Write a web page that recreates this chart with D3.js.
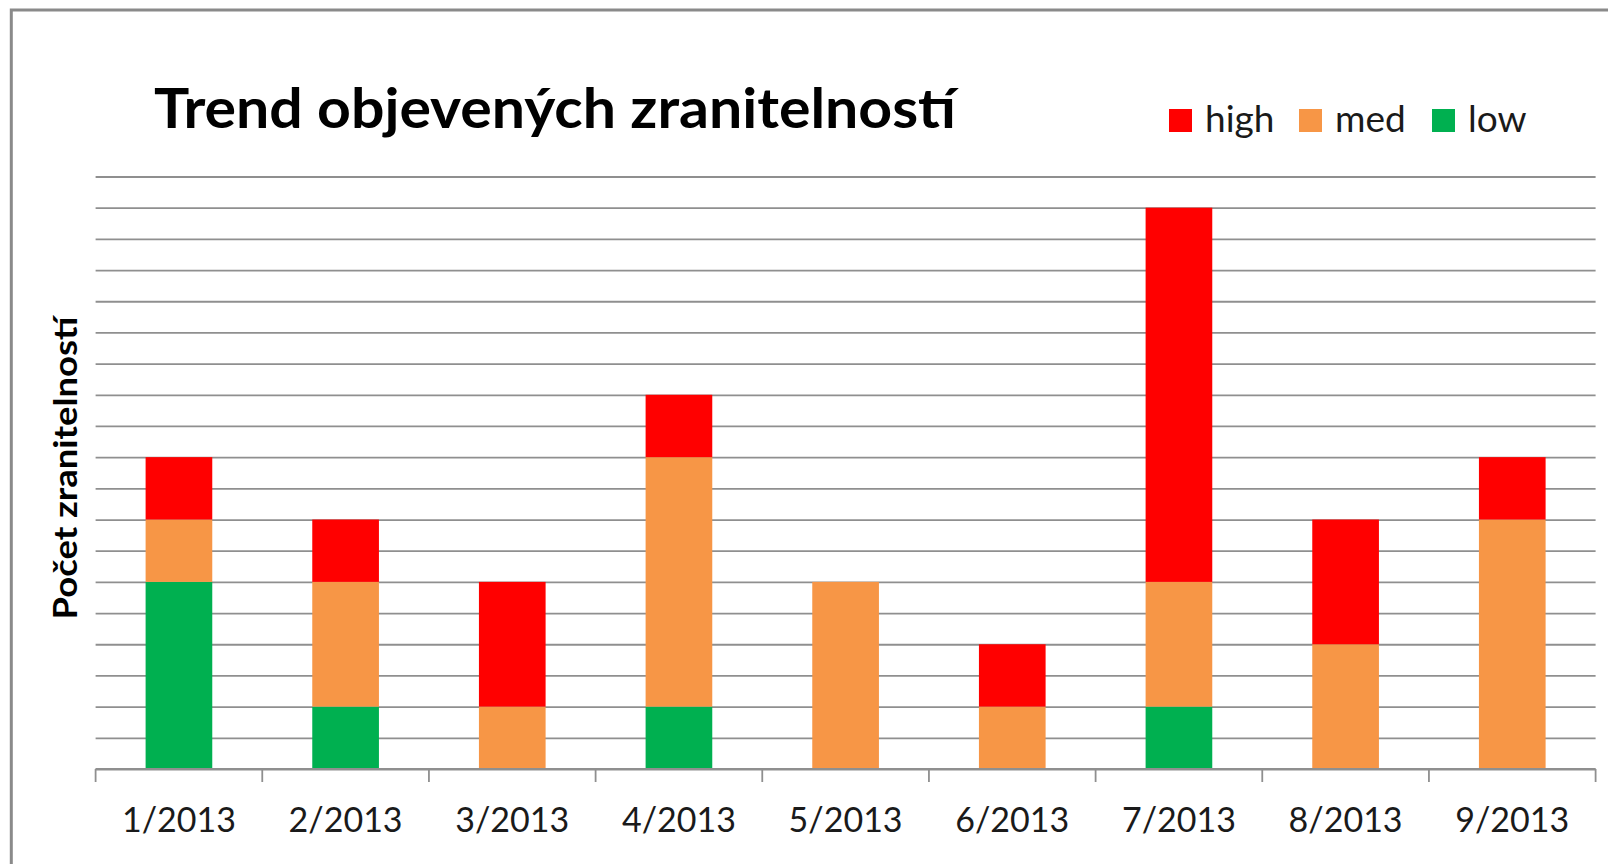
<!DOCTYPE html>
<html>
<head>
<meta charset="utf-8">
<script src="https://cdn.jsdelivr.net/npm/d3@7"></script>
<style>
  html, body { margin: 0; padding: 0; background: #fff; }
  svg { display: block; }
</style>
</head>
<body>
<svg id="chart" width="1608" height="864"></svg>
<script>
// data
const months = ['1/2013', '2/2013', '3/2013', '4/2013', '5/2013', '6/2013', '7/2013', '8/2013', '9/2013'];
const high = [2, 2, 4, 2, 0, 2, 12, 4, 2];
const med = [2, 4, 2, 8, 6, 2, 4, 4, 8];
const low = [6, 2, 0, 2, 0, 0, 2, 0, 0];
const seriesKeys = ['low', 'med', 'high'];
const legendKeys = ['high', 'med', 'low'];
const yMax = 19;

function drawChart() {
  const svg = d3.select('svg#chart');
  const left = 95.6;
  const right = 1595.6;
  const bottom = 769;
  const top = 176.5;

  const colour = d3.scaleOrdinal()
    .domain(['high', 'med', 'low'])
    .range(['#ff0000', '#f79646', '#00b050']);

  const rows = months.map((m, i) => ({ month: m, high: high[i], med: med[i], low: low[i] }));
  const stacked = d3.stack().keys(seriesKeys)(rows);

  const x = d3.scaleBand()
    .domain(months)
    .range([left, right])
    .paddingInner(0.6)
    .paddingOuter(0.3);

  const y = d3.scaleLinear()
    .domain([0, yMax])
    .range([bottom, top]);

  // frame (only left and top are inside the picture)
  svg.append('rect')
    .attr('x', 11.3).attr('y', 10)
    .attr('width', 1640).attr('height', 900)
    .attr('fill', 'none')
    .attr('stroke', '#8a8a8a')
    .attr('stroke-width', 3);

  // gridlines
  const grid = svg.append('g')
    .attr('transform', `translate(${left},0)`)
    .call(d3.axisLeft(y).ticks(yMax).tickSize(-(right - left)).tickFormat(''));
  grid.select('.domain').remove();
  grid.selectAll('line')
    .attr('stroke', '#8f8f8f')
    .attr('stroke-width', 1.8);

  // bars
  svg.append('g').selectAll('g')
    .data(stacked)
    .join('g')
    .attr('fill', (d) => colour(d.key))
    .selectAll('rect')
    .data((d) => d)
    .join('rect')
    .attr('x', (d) => x(d.data.month))
    .attr('y', (d) => y(d[1]))
    .attr('width', x.bandwidth())
    .attr('height', (d) => y(d[0]) - y(d[1]));

  // x axis with labels
  const xAxis = svg.append('g')
    .attr('transform', `translate(0,${bottom})`)
    .call(d3.axisBottom(x).tickSize(0).tickPadding(0));
  xAxis.select('.domain').remove();
  xAxis.selectAll('text')
    .attr('y', 63)
    .attr('dy', 0)
    .attr('fill', '#1a1a1a')
    .attr('font-family', 'Lato, sans-serif')
    .attr('font-size', '34px');

  svg.append('line')
    .attr('x1', left).attr('x2', right)
    .attr('y1', bottom).attr('y2', bottom)
    .attr('stroke', '#8f8f8f')
    .attr('stroke-width', 1.8);

  // category boundary ticks
  const bounds = d3.range(months.length + 1).map((i) => left + i * x.step());
  svg.append('g').selectAll('line')
    .data(bounds)
    .join('line')
    .attr('x1', (d) => d).attr('x2', (d) => d)
    .attr('y1', bottom).attr('y2', bottom + 13)
    .attr('stroke', '#8f8f8f')
    .attr('stroke-width', 1.8);

  // title
  svg.append('text')
    .attr('x', 154)
    .attr('y', 128)
    .attr('font-family', 'Lato, sans-serif')
    .attr('font-weight', 'bold')
    .attr('font-size', '55px')
    .attr('textLength', 802)
    .attr('lengthAdjust', 'spacingAndGlyphs')
    .attr('fill', '#000')
    .text('Trend objevených zranitelností');

  // y title
  svg.append('text')
    .attr('transform', 'translate(77,468) rotate(-90)')
    .attr('text-anchor', 'middle')
    .attr('font-family', 'Lato, sans-serif')
    .attr('font-weight', 'bold')
    .attr('font-size', '33px')
    .attr('textLength', 303)
    .attr('lengthAdjust', 'spacingAndGlyphs')
    .attr('fill', '#000')
    .text('Počet zranitelností');

  // legend
  const legendX = [1169, 1299, 1432];
  const legend = svg.append('g').selectAll('g')
    .data(legendKeys)
    .join('g')
    .attr('transform', (d, i) => `translate(${legendX[i]},109)`);
  legend.append('rect')
    .attr('width', 23).attr('height', 23)
    .attr('fill', (d) => colour(d));
  legend.append('text')
    .attr('x', 36)
    .attr('y', 23)
    .attr('font-family', 'Lato, sans-serif')
    .attr('font-size', '37px')
    .attr('fill', '#1a1a1a')
    .text((d) => d);
}

window.addEventListener('load', function() {
  drawChart();
});
</script>
</body>
</html>
